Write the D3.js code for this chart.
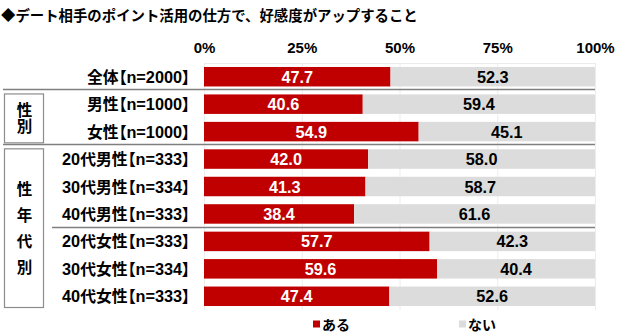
<!DOCTYPE html>
<html>
<head>
<meta charset="utf-8">
<script src="https://cdn.jsdelivr.net/npm/d3@7"></script>
<style>
  html, body { margin: 0; padding: 0; background: #fff; }
  svg { display: block; }
  text { font-family: "Liberation Sans", Arial, "Noto Sans CJK JP", sans-serif; font-weight: bold; }
  .cat { font-feature-settings: "palt" 1; }
  .vert { writing-mode: vertical-rl; text-orientation: upright; }
</style>
</head>
<body>
<svg id="chart" width="640" height="335"></svg>
<script>
// Survey categories (top to bottom)
const categories = [
  "全体【n=2000】",
  "男性【n=1000】",
  "女性【n=1000】",
  "20代男性【n=333】",
  "30代男性【n=334】",
  "40代男性【n=333】",
  "20代女性【n=333】",
  "30代女性【n=334】",
  "40代女性【n=333】"
];
// Share answering "ある" / "ない" (%)
const aruValues = [47.7, 40.6, 54.9, 42.0, 41.3, 38.4, 57.7, 59.6, 47.4];
const naiValues = [52.3, 59.4, 45.1, 58.0, 58.7, 61.6, 42.3, 40.4, 52.6];
const tickValues = [0, 25, 50, 75, 100];
const seriesNames = ["ある", "ない"];
// Group boxes: label and the range of category rows they span
const groupLabels = ["性別", "性年代別"];
const groupRows = [[1, 2], [3, 8]];
// Separators drawn after these row indices
const separatorAfter = [0, 2, 5];

const titleText = "◆デート相手のポイント活用の仕方で、好感度がアップすること";
const RED = "#C00000", GRAY = "#DCDCDC";
const JP = "'Noto Sans CJK JP', sans-serif";
const LAT = "'Liberation Sans', Arial, sans-serif";

const svg = d3.select("#chart");

const x = d3.scaleLinear().domain([0, 100]).range([204, 595]);
const y = d3.scaleBand().domain(categories).range([63, 310])
  .paddingInner(0.29).paddingOuter(0.145);
const step = y.step();

// Title
svg.append("text")
  .attr("x", 1).attr("y", 20.5)
  .attr("font-size", 14.4)
  .style("font-family", JP)
  .attr("fill", "#000")
  .text(titleText);

// Light plot frame / gridlines
svg.append("g").selectAll("line").data(tickValues).join("line")
  .attr("x1", d => x(d) + 0.5).attr("x2", d => x(d) + 0.5)
  .attr("y1", 63).attr("y2", 310)
  .attr("stroke", "#ececec").attr("stroke-width", 1);
svg.append("line")
  .attr("x1", x(0)).attr("x2", x(100))
  .attr("y1", 63.5).attr("y2", 63.5)
  .attr("stroke", "#ececec");

// Top axis (labels only)
const axis = svg.append("g")
  .attr("transform", "translate(0,53)")
  .call(d3.axisTop(x).tickValues(tickValues).tickFormat(d => d + "%").tickSize(0).tickPadding(0));
axis.select(".domain").remove();
axis.selectAll("text")
  .attr("font-size", 15)
  .attr("fill", "#000")
  .style("font-family", LAT)
  .style("font-weight", "bold");

// Bars and value labels
const rows = svg.append("g");
categories.forEach((c, i) => {
  const y0 = y(c), h = y.bandwidth();
  const a = aruValues[i], n = naiValues[i];
  rows.append("rect")
    .attr("x", x(0)).attr("y", y0)
    .attr("width", x(a) - x(0)).attr("height", h)
    .attr("fill", RED);
  rows.append("rect")
    .attr("x", x(a)).attr("y", y0)
    .attr("width", x(a + n) - x(a)).attr("height", h)
    .attr("fill", GRAY);
  rows.append("text")
    .attr("x", (x(0) + x(a)) / 2).attr("y", y0 + h / 2 + 6)
    .attr("text-anchor", "middle").attr("font-size", 16.3)
    .style("font-family", LAT)
    .attr("fill", "#fff")
    .text(a.toFixed(1));
  rows.append("text")
    .attr("x", (x(a) + x(a + n)) / 2).attr("y", y0 + h / 2 + 6)
    .attr("text-anchor", "middle").attr("font-size", 16.3)
    .style("font-family", LAT)
    .attr("fill", "#000")
    .text(n.toFixed(1));

  // Category label: CJK runs and Latin runs styled separately
  const t = rows.append("text")
    .attr("class", "cat")
    .attr("x", 190).attr("y", y0 + h / 2 + 6)
    .attr("text-anchor", "end")
    .attr("fill", "#000");
  c.split(/([\u3000-\u9fff\uff00-\uffef]+)/).filter(s => s.length).forEach(part => {
    const isCJK = /[\u3000-\u9fff\uff00-\uffef]/.test(part);
    t.append("tspan")
      .style("font-family", isCJK ? JP : LAT)
      .attr("font-size", isCJK ? 15.8 : 16.3)
      .text(part);
  });
});

// Separator lines between groups
const sepStart = [3, 3, 52];
separatorAfter.forEach((r, k) => {
  const yy = Math.round(y(categories[r]) + y.bandwidth() + (step - y.bandwidth()) / 2) - 0.5;
  svg.append("line")
    .attr("x1", sepStart[k]).attr("x2", x(100))
    .attr("y1", yy).attr("y2", yy)
    .attr("stroke", "#7f7f7f").attr("stroke-width", 1.3);
});

// Group boxes with vertically set labels
groupRows.forEach(([a, b], k) => {
  const top = y(categories[a]) - (step - y.bandwidth()) / 2 + 3.5;
  const bottom = y(categories[b]) + y.bandwidth() + (step - y.bandwidth()) / 2 - 2.5;
  svg.append("rect")
    .attr("x", 4.5).attr("y", top)
    .attr("width", 39).attr("height", bottom - top)
    .attr("fill", "none").attr("stroke", "#8c8c8c").attr("stroke-width", 1.2);
  const size = 15.5;
  const spacing = k === 0 ? 0.5 : 26 - size;
  const mid = (top + bottom) / 2;
  svg.append("text")
    .attr("class", "vert")
    .attr("x", 24.5)
    .attr("y", mid + spacing / 2)
    .attr("text-anchor", "middle")
    .attr("font-size", size)
    .style("letter-spacing", spacing + "px")
    .style("font-family", JP)
    .attr("fill", "#000")
    .text(groupLabels[k]);
});

// Legend
const legendX = [313, 459];
const legendColors = [RED, GRAY];
seriesNames.forEach((name, i) => {
  svg.append("rect")
    .attr("x", legendX[i]).attr("y", 320.5)
    .attr("width", 7).attr("height", 7)
    .attr("fill", legendColors[i]);
  svg.append("text")
    .attr("x", legendX[i] + 9).attr("y", 329.5)
    .attr("font-size", 14)
    .style("font-family", JP)
    .attr("fill", "#000")
    .text(name);
});
</script>
</body>
</html>
